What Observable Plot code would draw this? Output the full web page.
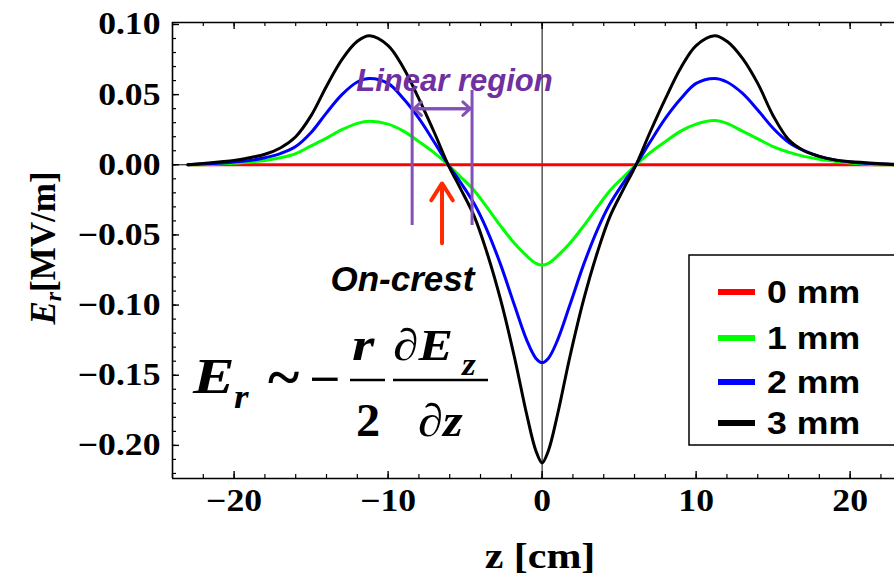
<!DOCTYPE html>
<html>
<head>
<meta charset="utf-8">
<script src="https://cdn.jsdelivr.net/npm/d3@7"></script>
<script src="https://cdn.jsdelivr.net/npm/@observablehq/plot@0.6"></script>
<style>
  html, body { margin: 0; padding: 0; background: #fff; }
  #chart { width: 894px; height: 576px; overflow: hidden; }
</style>
</head>
<body>
<div id="chart"></div>
<script>
// ---------- data ----------
const z = [-23,-22,-21,-20,-19,-18,-17,-16,-15,-14,-13,-12,-11.2,-10,-9,-8,-7,-6.1,-5.3,-4.4,-3.6,-2.7,-1.8,-1,-0.4,0,
           0.4,1,1.8,2.7,3.6,4.4,5.3,6.1,7,8,9,10,11.2,12,13,14,15,16,17,18,19,20,21,22,23];

const er0mm = [0,0,0,0,0,0,0,0,0,0,0,0,0,0,0,0,0,0,0,0,0,0,0,0,0,0,
               0,0,0,0,0,0,0,0,0,0,0,0,0,0,0,0,0,0,0,0,0,0,0,0,0];

const er1mm = [0,0,0.0005,0.001,0.002,0.003,0.005,0.008,0.0135,0.019,0.025,0.0295,0.031,0.029,0.024,0.0165,0.0085,0,-0.0085,-0.0185,-0.030,-0.0435,-0.056,-0.065,-0.0703,-0.0715,
               -0.0703,-0.065,-0.056,-0.0435,-0.030,-0.0185,-0.0085,0,0.0085,0.0165,0.024,0.029,0.0315,0.0295,0.024,0.0185,0.013,0.009,0.006,0.004,0.0025,0.0012,0.0005,0,0];

const er2mm = [0,0.0005,0.001,0.002,0.003,0.005,0.008,0.013,0.023,0.037,0.050,0.059,0.0615,0.058,0.047,0.033,0.016,0,-0.0125,-0.028,-0.046,-0.071,-0.100,-0.125,-0.138,-0.141,
               -0.138,-0.125,-0.100,-0.071,-0.046,-0.028,-0.0125,0,0.016,0.033,0.047,0.058,0.0615,0.059,0.051,0.039,0.026,0.016,0.010,0.006,0.0035,0.002,0.001,0.0005,0];

const er3mm = [0,0.001,0.002,0.003,0.005,0.0075,0.012,0.020,0.035,0.056,0.075,0.088,0.092,0.085,0.069,0.047,0.023,0,-0.017,-0.037,-0.062,-0.096,-0.137,-0.178,-0.204,-0.2125,
               -0.204,-0.178,-0.137,-0.096,-0.062,-0.037,-0.017,0,0.023,0.047,0.069,0.085,0.092,0.088,0.076,0.058,0.035,0.018,0.010,0.006,0.0035,0.0022,0.0015,0.0008,0.0003];

const seriesNames  = ["0 mm", "1 mm", "2 mm", "3 mm"];
const seriesValues = [er0mm, er1mm, er2mm, er3mm];
const seriesColors = ["#ff0000", "#00ff00", "#0000ff", "#000000"];

const xTickValues = [-20, -10, 0, 10, 20];
const xMinorTicks = [-24,-22,-20,-18,-16,-14,-12,-10,-8,-6,-4,-2,0,2,4,6,8,10,12,14,16,18,20,22];
const yTickValues = [-0.20, -0.15, -0.10, -0.05, 0, 0.05, 0.10];
const yMinorTicks = [-0.22,-0.21,-0.20,-0.19,-0.18,-0.17,-0.16,-0.15,-0.14,-0.13,-0.12,-0.11,-0.10,-0.09,-0.08,-0.07,-0.06,
                     -0.05,-0.04,-0.03,-0.02,-0.01,0,0.01,0.02,0.03,0.04,0.05,0.06,0.07,0.08,0.09,0.10];

const xAxisLabel = "z [cm]";
const yAxisLabelVar = "E";
const yAxisLabelSub = "r";
const yAxisLabelUnit = "[MV/m]";

// annotations (data coordinates)
const linearRegionBounds = [-8.44, -4.55];
const linearRegionSpan = [-0.0433, 0.053];
const linearRegionArrowY = 0.040;
const linearRegionLabel = [{z: -5.69, e: 0.060, text: "Linear region"}];
const onCrestArrow = [{z: -6.5, e1: -0.056, e2: -0.0133}];
const onCrestLabel = [{z: -9.07, e: -0.0818, text: "On-crest"}];

// ---------- build ----------
const table = seriesNames.flatMap((name, i) => z.map((zz, j) => ({series: name, z: zz, er: seriesValues[i][j]})));

const xDomain = [-24, 22.88];
const yDomain = [-0.2236, 0.1014];
const W = 894, H = 576, mL = 172, mR = 0, mT = 22, mB = 98;
const innerW = W - mL - mR, innerH = H - mT - mB;
const purple = "#7030a0";
const purpleLine = "#8350b8";
const red = "#ff2a00";
const serif = "'Liberation Serif', 'Times New Roman', serif";
const sans = "'Liberation Sans', Arial, sans-serif";
const lrInner = [linearRegionBounds[0] + 0.12, linearRegionBounds[1] - 0.12];

const plot = Plot.plot({
  width: W, height: H,
  marginLeft: mL, marginRight: mR, marginTop: mT, marginBottom: mB,
  x: {domain: xDomain},
  y: {domain: yDomain},
  color: {domain: seriesNames, range: seriesColors},
  style: {background: "white", fontFamily: serif},
  marks: [
    Plot.ruleY([0], {stroke: "#000", strokeWidth: 1}),
    Plot.ruleX([0], {stroke: "#000", strokeWidth: 1}),
    Plot.line(table, {x: "z", y: "er", z: "series", stroke: "series", strokeWidth: 3, curve: "catmull-rom", clip: true}),
    Plot.ruleY([yDomain[1]], {stroke: "#000", strokeWidth: 1.6}),
    Plot.ruleY([yDomain[0]], {stroke: "#000", strokeWidth: 1.6}),
    Plot.ruleX([xDomain[0]], {stroke: "#000", strokeWidth: 1.6}),
    Plot.ruleX(xMinorTicks, {x: d => d, insetTop: innerH - 4, stroke: "#000", strokeWidth: 1.2}),
    Plot.ruleX(xTickValues, {x: d => d, insetTop: innerH - 7, stroke: "#000", strokeWidth: 1.4}),
    Plot.ruleX(xMinorTicks, {x: d => d, insetBottom: innerH - 4, stroke: "#000", strokeWidth: 1.2}),
    Plot.ruleX(xTickValues, {x: d => d, insetBottom: innerH - 7, stroke: "#000", strokeWidth: 1.4}),
    Plot.ruleY(yMinorTicks, {y: d => d, insetRight: innerW - 4, stroke: "#000", strokeWidth: 1.2}),
    Plot.ruleY(yTickValues, {y: d => d, insetRight: innerW - 7, stroke: "#000", strokeWidth: 1.4}),
    Plot.axisX(xTickValues, {tickSize: 0, tickPadding: 10, tickFormat: d3.format("d"), fontSize: 31, fontWeight: "bold", fontFamily: serif, fill: "#000", label: null}),
    Plot.axisY(yTickValues, {tickSize: 0, tickPadding: 12, tickFormat: d3.format(".2f"), fontSize: 31, fontWeight: "bold", fontFamily: serif, fill: "#000", label: null}),
    Plot.ruleX(linearRegionBounds, {x: d => d, y1: linearRegionSpan[0], y2: linearRegionSpan[1], stroke: purpleLine, strokeWidth: 3}),
    Plot.arrow([0, 1], {x1: i => lrInner[1 - i], y1: linearRegionArrowY, x2: i => lrInner[i], y2: linearRegionArrowY, stroke: purpleLine, strokeWidth: 3, headLength: 5, headAngle: 85}),
    Plot.text(linearRegionLabel, {x: "z", y: "e", text: "text", fontFamily: sans, fontWeight: "bold", fontStyle: "italic", fontSize: 31, fill: purple}),
    Plot.arrow(onCrestArrow, {x1: "z", y1: "e1", x2: "z", y2: "e2", stroke: red, strokeWidth: 4, headLength: 7.5, headAngle: 65}),
    Plot.text(onCrestLabel, {x: "z", y: "e", text: "text", fontFamily: sans, fontWeight: "bold", fontStyle: "italic", fontSize: 35, fill: "#000"})
  ]
});

document.getElementById("chart").appendChild(plot);
const svg = d3.select(plot);

function stretchLen(sel, k) {
  sel.each(function () {
    const w = this.getComputedTextLength();
    this.setAttribute("textLength", (w * k).toFixed(2));
    this.setAttribute("lengthAdjust", "spacingAndGlyphs");
  });
}
stretchLen(svg.selectAll('g[aria-label="x-axis tick label"] text'), 1.15);
stretchLen(svg.selectAll('g[aria-label="y-axis tick label"] text'), 1.15);

function ptext(parent, x, y, s, opts) {
  const k = opts.k || 1;
  return parent.append("text")
    .attr("transform", `translate(${x},${y}) scale(${k},1)`)
    .attr("text-anchor", opts.anchor || "start")
    .attr("fill", "#000")
    .style("font-family", opts.family || serif)
    .style("font-weight", "bold")
    .style("font-style", opts.italic ? "italic" : "normal")
    .style("font-size", opts.size + "px")
    .text(s);
}

// axis titles
ptext(svg, 540, 568, xAxisLabel, {size: 35, k: 1.2, anchor: "middle"});

const yl = svg.append("text")
  .attr("transform", "translate(55,248) rotate(-90)")
  .attr("text-anchor", "middle")
  .style("font-family", serif).style("font-weight", "bold").style("font-size", "35px")
  .attr("fill", "#000");
yl.append("tspan").style("font-style", "italic").text(yAxisLabelVar);
yl.append("tspan").style("font-style", "italic").style("font-size", "24px").attr("dy", 6).text(yAxisLabelSub);
yl.append("tspan").attr("dy", -6).text(yAxisLabelUnit);

// formula  E_r ~ -(r/2) dEz/dz
const formula = svg.append("g");
ptext(formula, 193, 393, "E", {size: 50, italic: true, k: 1.25});
ptext(formula, 234, 408, "r", {size: 34, italic: true, k: 1.1});
ptext(formula, 268, 397, "~", {size: 60, k: 1.0});
ptext(formula, 309, 395, "\u2212", {size: 48, k: 1.15});
ptext(formula, 352, 360, "r", {size: 46, italic: true, k: 1.25});
ptext(formula, 356, 436, "2", {size: 46, k: 1.05});
ptext(formula, 393, 360, "\u2202E", {size: 45, italic: true, k: 1.15});
ptext(formula, 462, 375, "z", {size: 32, italic: true, k: 1.1});
ptext(formula, 418, 436, "\u2202z", {size: 46, italic: true, k: 1.1});
formula.append("line").attr("x1", 350).attr("x2", 385).attr("y1", 380).attr("y2", 380).attr("stroke", "#000").attr("stroke-width", 2.5);
formula.append("line").attr("x1", 393).attr("x2", 488).attr("y1", 380).attr("y2", 380).attr("stroke", "#000").attr("stroke-width", 2.5);

// legend
const legendRows = [292, 338, 382, 423];
const lg = svg.append("g");
lg.append("rect").attr("x", 689).attr("y", 255).attr("width", 230).attr("height", 190)
  .attr("fill", "#fff").attr("stroke", "#000").attr("stroke-width", 1.5);
seriesNames.forEach((name, i) => {
  const y = legendRows[i];
  lg.append("line").attr("x1", 718).attr("x2", 755).attr("y1", y).attr("y2", y)
    .attr("stroke", seriesColors[i]).attr("stroke-width", 6);
  ptext(lg, 767, y + 11, name, {size: 31, k: 1.15, family: sans});
});
</script>
</body>
</html>
